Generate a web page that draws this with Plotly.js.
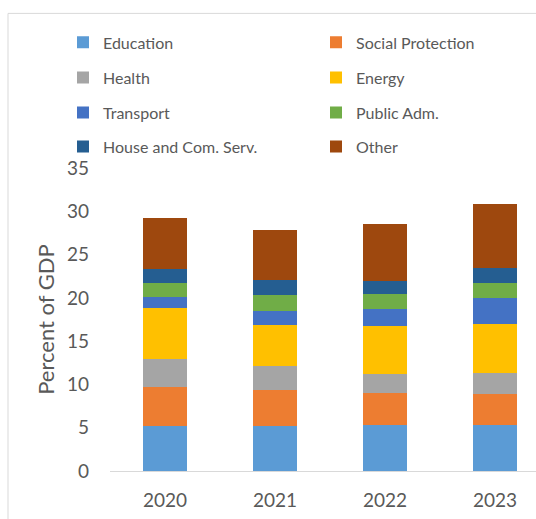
<!DOCTYPE html>
<html>
<head>
<meta charset="utf-8">
<script src="https://cdn.plot.ly/plotly-3.0.1.min.js"></script>
<style>
html,body{margin:0;padding:0;overflow:hidden;background:#fff;}
#chart{width:550px;height:519px;}
</style>
</head>
<body>
<div id="chart"></div>
<script>
const years = ['2020', '2021', '2022', '2023'];
const seriesNames = ['Education', 'Social Protection', 'Health', 'Energy', 'Transport', 'Public Adm.', 'House and Com. Serv.', 'Other'];
const education = [5.24, 5.24, 5.35, 5.35];
const socialProtection = [4.52, 4.11, 3.70, 3.50];
const health = [3.13, 2.83, 2.20, 2.52];
const energy = [5.91, 4.63, 5.51, 5.59];
const transport = [1.27, 1.65, 1.97, 2.97];
const publicAdm = [1.62, 1.85, 1.66, 1.77];
const houseCom = [1.69, 1.70, 1.51, 1.70];
const other = [5.84, 5.83, 6.60, 7.41];
const colors = ['#5B9BD5', '#ED7D31', '#A5A5A5', '#FFC000', '#4472C4', '#70AD47', '#255E91', '#9E480E'];
const yTicks = [0, 5, 10, 15, 20, 25, 30, 35];

const values = [education, socialProtection, health, energy, transport, publicAdm, houseCom, other];
const font = 'Lato, "Open Sans", sans-serif';
const grey = '#595959';

// legend placement (2 columns, 4 rows) in paper coords
const L = 110, PW = 440, T = 168.3, PH = 302.4;
const colX = [77, 330];
const rowY = [43, 78, 113, 147];
const px2x = p => (p - L) / PW;
const py2y = p => (T + PH - p) / PH;

const traces = seriesNames.map((n, i) => ({
  type: 'bar',
  name: n,
  x: years,
  y: values[i],
  marker: {color: colors[i], line: {width: 0}},
  legend: i === 0 ? 'legend' : 'legend' + (i + 1),
  hoverinfo: 'skip'
}));

const layout = {
  width: 550,
  height: 519,
  margin: {l: L, r: 0, t: T, b: 519 - T - PH, pad: 0},
  paper_bgcolor: '#fff',
  plot_bgcolor: '#fff',
  barmode: 'stack',
  bargap: 0.6,
  font: {family: font, color: grey},
  xaxis: {
    type: 'category',
    range: [-0.5, 3.5],
    showline: true,
    linecolor: '#d9d9d9',
    linewidth: 1,
    ticks: '',
    showgrid: false,
    zeroline: false,
    tickfont: {size: 19, color: grey, family: font},
    ticklabelstandoff: 12
  },
  yaxis: {
    range: [0, 35],
    tickvals: yTicks,
    ticktext: yTicks.map(String),
    showgrid: false,
    zeroline: false,
    showline: false,
    ticks: '',
    tickfont: {size: 19, color: grey, family: font},
    ticklabelstandoff: 20,
    automargin: false,
    title: {text: 'Percent of GDP', font: {size: 22, color: grey, family: font}, standoff: 6}
  },
  showlegend: true,
  shapes: [{
    type: 'rect', xref: 'paper', yref: 'paper',
    x0: px2x(8), x1: px2x(600), y0: py2y(14), y1: py2y(600),
    line: {color: '#d9d9d9', width: 1}, fillcolor: 'rgba(0,0,0,0)', layer: 'below'
  }]
};

seriesNames.forEach((n, i) => {
  const key = i === 0 ? 'legend' : 'legend' + (i + 1);
  const col = i % 2, row = Math.floor(i / 2);
  layout[key] = {
    x: px2x(colX[col] - 14),
    y: py2y(rowY[row]),
    xanchor: 'left',
    yanchor: 'middle',
    bgcolor: 'rgba(0,0,0,0)',
    borderwidth: 0,
    itemwidth: 30,
    font: {size: 16, color: grey, family: font},
    itemclick: false,
    itemdoubleclick: false
  };
});

Plotly.newPlot('chart', traces, layout, {displayModeBar: false, staticPlot: true});
</script>
</body>
</html>
